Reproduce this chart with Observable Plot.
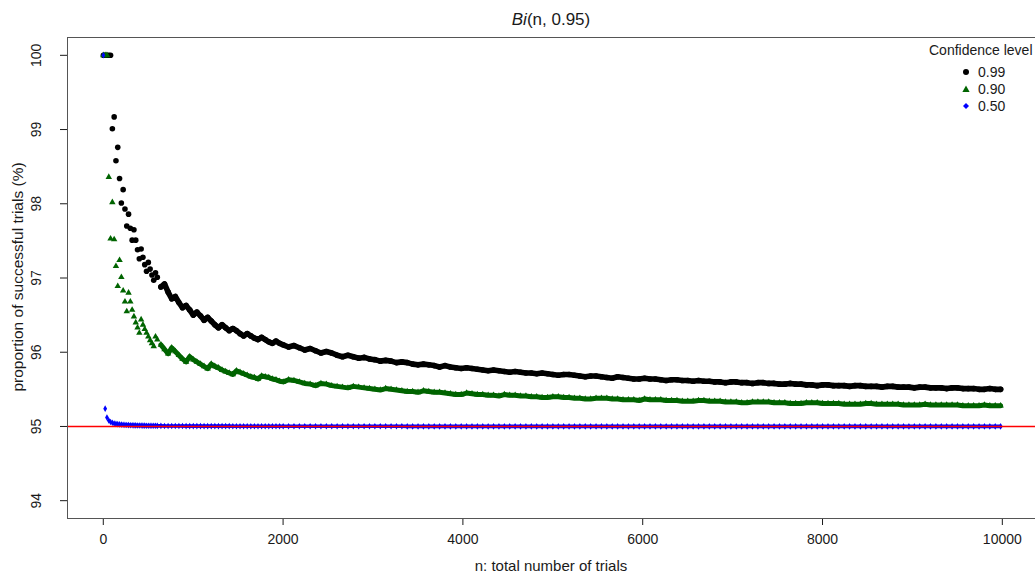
<!DOCTYPE html>
<html>
<head>
<meta charset="utf-8">
<script src="https://cdn.jsdelivr.net/npm/d3@7"></script>
<script src="https://cdn.jsdelivr.net/npm/@observablehq/plot@0.6"></script>
<style>
  html, body { margin: 0; padding: 0; background: #fff; }
  #wrap { position: relative; width: 1035px; height: 574px; overflow: hidden; font-family: "Liberation Sans", Arial, Helvetica, sans-serif; color: #1a1a1a; }
  #wrap svg.plot { position: absolute; left: 0; top: 0; }
  .abs { position: absolute; white-space: nowrap; }
  #title { left: 67px; width: 968px; top: 10px; text-align: center; font-size: 17px; }
  #xlab { left: 67px; width: 968px; top: 557px; text-align: center; font-size: 15px; }
  #ylab { left: 18px; top: 277px; font-size: 15.5px; transform: translate(-50%, -50%) rotate(-90deg); }
  #legend { left: 929px; top: 42px; font-size: 14px; }
  .row { position: absolute; left: 0; height: 17px; line-height: 17px; }
  .row svg { position: absolute; left: 32px; top: 3px; }
  .row span { position: absolute; left: 49px; }
</style>
</head>
<body>
<div id="wrap">
  <div id="title" class="abs"><i>Bi</i>(n, 0.95)</div>
  <div id="xlab" class="abs">n: total number of trials</div>
  <div id="ylab" class="abs">proportion of successful trials (%)</div>
  <div id="legend" class="abs"></div>
</div>
<script>
// ---- data ----
const nValues = [
  1,21,41,61,81,101,121,141,161,181,201,221,241,261,281,301,321,341,361,381,401,421,441,461,481,501,521,541,561,581,601,
  641,681,721,761,801,841,881,921,961,1001,1041,1081,1121,1161,1201,1241,1281,1321,1361,1401,1441,1481,1521,1561,1601,1641,1681,1721,1761,1801,1841,1881,1921,1961,2001,
  2061,2121,2181,2241,2301,2361,2421,2481,2541,2601,
  2661,2721,2781,2841,2901,2961,3021,3081,3141,3201,
  3261,3321,3381,3441,3501,3561,3621,3681,3741,3801,
  3861,3921,3981,4041,4101,4161,4221,4281,4341,4401,
  4461,4521,4581,4641,4701,4761,4821,4881,4941,5001,
  5061,5121,5181,5241,5301,5361,5421,5481,5541,5601,
  5661,5721,5781,5841,5901,5961,6021,6081,6141,6201,
  6261,6321,6381,6441,6501,6561,6621,6681,6741,6801,
  6861,6921,6981,7041,7101,7161,7221,7281,7341,7401,
  7461,7521,7581,7641,7701,7761,7821,7881,7941,8001,
  8061,8121,8181,8241,8301,8361,8421,8481,8541,8601,
  8661,8721,8781,8841,8901,8961,9021,9081,9141,9201,
  9261,9321,9381,9441,9501,9561,9621,9681,9741,9801,
  9861,9921,9981
];
const level099 = [
  100,100,100,100,100,99.01,99.17,98.58,98.76,98.34,98.01,98.19,97.93,97.70,97.86,97.67,97.51,97.65,97.51,97.38,97.26,97.39,97.28,97.18,97.09,97.21,97.12,97.04,96.97,97.07,97.01,
  96.88,96.92,96.81,96.72,96.75,96.67,96.60,96.63,96.57,96.50,96.54,96.49,96.43,96.47,96.42,96.37,96.33,96.37,96.33,96.29,96.32,96.29,96.25,96.22,96.25,96.22,96.19,96.17,96.20,96.17,96.14,96.12,96.15,96.12,96.10,
  96.07,96.09,96.06,96.03,96.05,96.02,95.99,96.01,95.99,95.96,
  95.94,95.96,95.94,95.92,95.93,95.91,95.90,95.88,95.89,95.88,
  95.86,95.87,95.86,95.84,95.83,95.84,95.83,95.82,95.80,95.82,
  95.80,95.79,95.78,95.79,95.78,95.77,95.76,95.75,95.76,95.75,
  95.74,95.73,95.74,95.73,95.72,95.72,95.71,95.72,95.71,95.70,
  95.69,95.70,95.70,95.69,95.68,95.67,95.68,95.68,95.67,95.66,
  95.65,95.67,95.66,95.65,95.64,95.64,95.65,95.64,95.64,95.63,
  95.62,95.63,95.63,95.62,95.62,95.61,95.62,95.61,95.61,95.60,
  95.60,95.59,95.60,95.60,95.59,95.59,95.58,95.59,95.59,95.58,
  95.58,95.57,95.57,95.58,95.57,95.57,95.56,95.56,95.55,95.56,
  95.56,95.55,95.55,95.55,95.54,95.55,95.55,95.54,95.54,95.54,
  95.53,95.54,95.54,95.53,95.53,95.53,95.52,95.53,95.53,95.52,
  95.52,95.52,95.51,95.52,95.52,95.51,95.51,95.51,95.50,95.50,
  95.51,95.50,95.50
];
const level090 = [
  100,100,100,98.36,97.53,98.02,97.52,97.16,96.89,97.24,97.01,96.83,96.68,96.55,96.80,96.68,96.57,96.48,96.40,96.33,96.26,96.44,96.37,96.31,96.26,96.21,96.16,96.12,96.08,96.21,96.17,
  96.10,96.04,95.98,96.06,96.01,95.96,95.91,95.87,95.94,95.90,95.87,95.84,95.81,95.78,95.84,95.81,95.79,95.76,95.74,95.72,95.70,95.75,95.73,95.71,95.69,95.67,95.66,95.64,95.68,95.67,95.66,95.64,95.63,95.61,95.60,
  95.63,95.62,95.60,95.58,95.57,95.55,95.58,95.57,95.55,95.54,
  95.53,95.52,95.54,95.53,95.52,95.51,95.50,95.49,95.51,95.50,
  95.49,95.48,95.47,95.47,95.46,95.48,95.47,95.46,95.46,95.45,
  95.44,95.43,95.43,95.45,95.44,95.43,95.43,95.42,95.42,95.41,
  95.43,95.42,95.42,95.41,95.41,95.40,95.40,95.39,95.39,95.40,
  95.40,95.39,95.39,95.38,95.38,95.37,95.37,95.38,95.38,95.38,
  95.37,95.37,95.36,95.36,95.36,95.35,95.37,95.36,95.36,95.36,
  95.35,95.35,95.35,95.34,95.34,95.34,95.35,95.35,95.34,95.34,
  95.34,95.33,95.33,95.33,95.32,95.32,95.33,95.33,95.33,95.33,
  95.32,95.32,95.32,95.31,95.31,95.31,95.32,95.32,95.32,95.31,
  95.31,95.31,95.31,95.30,95.30,95.30,95.30,95.31,95.31,95.30,
  95.30,95.30,95.30,95.30,95.29,95.29,95.29,95.29,95.30,95.29,
  95.29,95.29,95.29,95.29,95.29,95.28,95.28,95.28,95.28,95.29,
  95.28,95.28,95.28
];
const level050 = [
  100,95.24,95.12,95.08,95.06,95.05,95.04,95.035,95.031,95.028,95.025,95.023,95.021,95.019,95.018,95.017,95.016,95.015,95.014,95.013,95.012,95.012,95.011,95.011,95.010,95.010,95.010,95.009,95.009,95.009,95.008,
  95.008,95.007,95.007,95.007,95.006,95.006,95.006,95.005,95.005,95.005,95.005,95.005,95.004,95.004,95.004,95.004,95.004,95.004,95.004,95.004,95.003,95.003,95.003,95.003,95.003,95.003,95.003,95.003,95.003,95.003,95.003,95.003,95.003,95.003,95.002,
  95.002,95.002,95.002,95.002,95.002,95.002,95.002,95.002,95.002,95.002,
  95.002,95.002,95.002,95.002,95.002,95.002,95.002,95.002,95.002,95.002,
  95.002,95.002,95.001,95.001,95.001,95.001,95.001,95.001,95.001,95.001,
  95.001,95.001,95.001,95.001,95.001,95.001,95.001,95.001,95.001,95.001,
  95.001,95.001,95.001,95.001,95.001,95.001,95.001,95.001,95.001,95.001,
  95.001,95.001,95.001,95.001,95.001,95.001,95.001,95.001,95.001,95.001,
  95.001,95.001,95.001,95.001,95.001,95.001,95.001,95.001,95.001,95.001,
  95.001,95.001,95.001,95.001,95.001,95.001,95.001,95.001,95.001,95.001,
  95.001,95.001,95.001,95.001,95.001,95.001,95.001,95.001,95.001,95.001,
  95.001,95.001,95.001,95.001,95.001,95.001,95.001,95.001,95.001,95.001,
  95.001,95.001,95.001,95.001,95.001,95.001,95.001,95.001,95.001,95.001,
  95.001,95.001,95.001,95.001,95.001,95.001,95.001,95.001,95.001,95.001,
  95.001,95.001,95.001,95.001,95.001,95.001,95.001,95.001,95.001,95.001,
  95.001,95.001,95.001
];
const xTicks = [0, 2000, 4000, 6000, 8000, 10000];
const yTicks = [94, 95, 96, 97, 98, 99, 100];
const referenceLevel = 95;
const legendLevels = ["0.99", "0.90", "0.50"];
const seriesColors = ["#000000", "#006400", "#0000ff"];
const seriesSymbols = ["circle", "triangle", "diamond"];

// ---- build chart ----
const xDomain = [-398, 10369];
const yDomain = [93.76, 100.24];
const toRows = (vals) => nValues.map((n, i) => ({n, v: vals[i]}));
const series = [level099, level090, level050].map(toRows);
const radii = [2.8, 2.4, 2.0];
const bandWidths = [5.6, 5.0, 3.6];
const bandStart = [640, 640, 200];

const chart = Plot.plot({
  width: 1035,
  height: 574,
  marginLeft: 67,
  marginRight: 0,
  marginTop: 37,
  marginBottom: 56,
  x: {domain: xDomain},
  y: {domain: yDomain},
  style: {fontFamily: "'Liberation Sans', Arial, sans-serif", fontSize: "14px", color: "#1a1a1a", background: "transparent"},
  marks: [
    Plot.axisX({ticks: xTicks, tickSize: 7, tickPadding: 9, tickFormat: d => String(d), label: null, fontSize: 14}),
    Plot.axisY({ticks: yTicks, tickSize: 7, tickPadding: 20, tickRotate: -90, tickFormat: d => String(d), label: null, fontSize: 14}),
    ...series.map((rows, i) => Plot.line(rows.filter(d => d.n >= bandStart[i]), {x: "n", y: "v", stroke: seriesColors[i], strokeWidth: bandWidths[i], strokeLinejoin: "round", strokeLinecap: "round"})),
    ...series.map((rows, i) => Plot.dot(rows, {x: "n", y: "v", r: radii[i], fill: seriesColors[i], stroke: "none", symbol: seriesSymbols[i]})),
    Plot.ruleY([referenceLevel], {stroke: "#ff0000", strokeWidth: 1.6}),
    Plot.ruleY([yDomain[0], yDomain[1]], {stroke: "#555"}),
    Plot.ruleX([xDomain[0]], {stroke: "#555"})
  ]
});
document.getElementById("wrap").prepend(chart);

// legend
const legend = document.getElementById("legend");
const head = document.createElement("div");
head.className = "row";
head.style.top = "0px";
head.textContent = "Confidence level";
legend.appendChild(head);
const shapes = [
  '<circle cx="5" cy="5" r="3" fill="#000"/>',
  '<path d="M5,1.5 L8.6,8 L1.4,8 Z" fill="#006400"/>',
  '<path d="M5,2 L8,5 L5,8 L2,5 Z" fill="#0000ff"/>'
];
legendLevels.forEach((lab, i) => {
  const row = document.createElement("div");
  row.className = "row";
  row.style.top = (22 + i * 17) + "px";
  row.innerHTML = `<svg width="10" height="10" viewBox="0 0 10 10">${shapes[i]}</svg><span>${lab}</span>`;
  legend.appendChild(row);
});
</script>
</body>
</html>
